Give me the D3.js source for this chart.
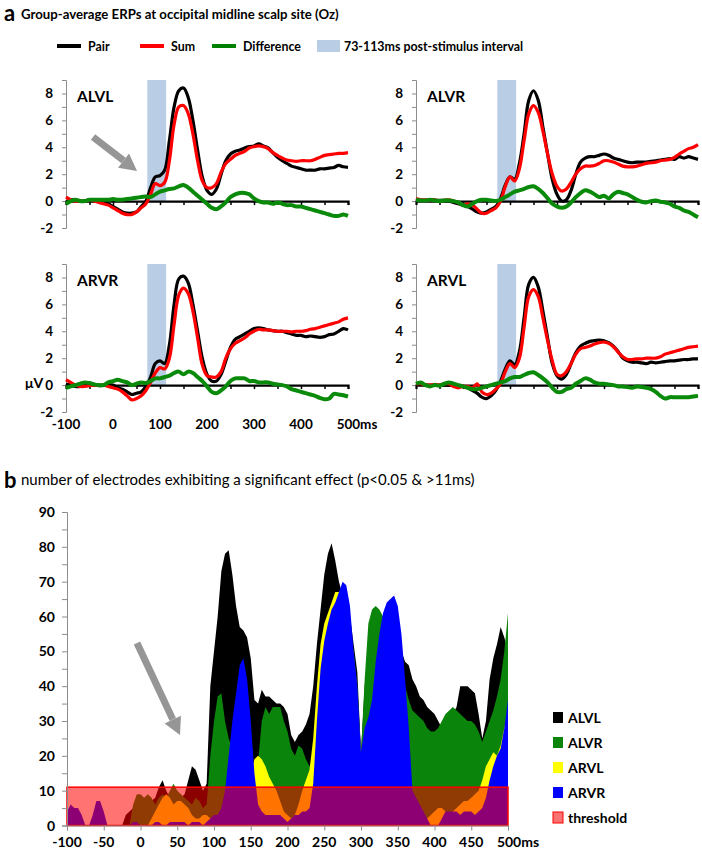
<!DOCTYPE html>
<html>
<head>
<meta charset="utf-8">
<script src="https://cdn.jsdelivr.net/npm/d3@7"></script>
<style>
  body { margin: 0; background: #fff; }
  svg { font-family: Lato, "Open Sans", sans-serif; }
</style>
</head>
<body>
<div id="chart"></div>
<script>
// ---- data: panel a, ERPs sampled every 10 ms ----
var erpTimes = d3.range(-100, 501, 10);

var alvlPair = [-0.1,0.1,0.1,0,0,0.1,0,0,-0.1,-0.2,-0.4,-0.6,-0.8,-0.9,-0.9,-0.8,-0.4,0,1.0,1.8,1.9,2.3,4.5,7.0,8.2,8.4,7.7,6.0,3.8,1.8,0.8,0.5,0.9,2.0,3.0,3.5,3.7,3.8,3.95,4.05,4.1,4.25,4.1,3.95,3.6,3.25,3.0,2.8,2.6,2.5,2.4,2.3,2.3,2.3,2.4,2.4,2.45,2.5,2.65,2.55,2.5];
var alvlSum  = [0.3,0.1,0,0,0,0.1,0,-0.1,-0.2,-0.3,-0.5,-0.7,-0.9,-1.0,-1.0,-0.8,-0.5,-0.2,0.5,1.3,1.15,1.4,3.0,5.7,7.0,7.1,6.5,5.0,3.0,1.5,1.0,1.0,1.3,2.15,2.8,3.1,3.4,3.55,3.7,3.95,4.05,4.1,4.05,3.9,3.6,3.4,3.2,3.05,3.0,2.95,3.0,3.0,3.0,3.1,3.25,3.4,3.45,3.5,3.55,3.55,3.6];
var alvlDiff = [-0.2,0,0.1,0,0,0.1,0.1,0.1,0.1,0.1,0.15,0.1,0.1,0.15,0.2,0.25,0.3,0.35,0.3,0.5,0.7,0.8,0.9,0.95,1.1,1.2,1.0,0.7,0.4,0.1,-0.2,-0.5,-0.6,-0.4,-0.1,0.3,0.5,0.6,0.6,0.5,0.2,0,-0.1,-0.1,-0.2,-0.1,-0.2,-0.3,-0.3,-0.4,-0.4,-0.5,-0.6,-0.7,-0.8,-0.9,-1.0,-1.1,-1.1,-1.0,-1.1];

var alvrPair = [0.05,0.05,0.05,0.05,0.05,0.05,0.05,0,-0.1,-0.2,-0.3,-0.4,-0.6,-0.8,-0.9,-0.8,-0.6,-0.4,0.2,1.2,1.8,1.6,2.8,5.0,7.5,8.2,7.5,5.5,3.5,1.6,0.5,0,0.1,0.8,2.0,2.9,3.2,3.3,3.3,3.4,3.5,3.4,3.2,3.1,3.0,2.9,2.85,2.9,2.9,2.9,2.95,3.0,3.05,3.1,3.15,3.1,3.3,3.2,3.3,3.2,3.1];
var alvrSum  = [0.2,0.1,0.1,0.1,0.1,0,0.05,0.1,0,-0.1,-0.3,-0.2,-0.3,-0.6,-0.9,-0.9,-0.7,-0.5,0,1.1,1.8,1.5,2.4,4.5,6.5,7.1,6.6,5.2,3.5,2.0,1.1,0.75,0.9,1.4,2.0,2.4,2.6,2.6,2.65,2.8,3.0,3.0,2.9,2.75,2.6,2.55,2.55,2.6,2.7,2.8,2.85,2.9,3.0,3.05,3.1,3.25,3.5,3.7,3.9,4.0,4.2];
var alvrDiff = [0.1,0.05,0.05,0.1,0.05,0,0.05,0.05,0,-0.1,-0.3,-0.4,-0.2,0,0.1,0.1,0.05,0,0.1,0.3,0.5,0.7,0.8,0.9,1.05,1.1,0.9,0.6,0.2,-0.2,-0.4,-0.5,-0.4,-0.1,0.3,0.6,0.8,0.7,0.5,0.3,0.4,0.2,0.5,0.7,0.6,0.5,0.3,0.1,-0.05,-0.1,0,0.05,-0.05,-0.1,-0.2,-0.4,-0.5,-0.7,-0.8,-1.0,-1.2];

var arvrPair = [0.05,0,-0.1,-0.1,0,0.1,0.05,-0.05,0,0,0,-0.2,-0.3,-0.5,-0.7,-0.6,-0.5,-0.1,0.6,1.6,1.8,1.6,3.0,6.0,7.9,8.1,7.6,6.0,4.0,2.0,0.8,0.3,0.3,0.8,1.8,2.8,3.4,3.6,3.8,4.0,4.2,4.25,4.2,4.1,4.05,4.0,4.0,3.9,3.8,3.7,3.7,3.6,3.65,3.6,3.55,3.6,3.75,3.8,4.0,4.2,4.1];
var arvrSum  = [0.4,0.2,0,-0.1,-0.1,-0.05,0,0,0,-0.1,-0.2,-0.3,-0.5,-0.8,-1.1,-1.0,-0.8,-0.4,0.2,0.9,1.3,1.2,2.0,4.5,6.7,7.2,6.8,5.5,3.5,1.5,0.7,0.6,0.6,1.0,2.0,2.7,3.1,3.3,3.5,3.8,4.0,4.15,4.1,4.1,4.05,4.0,4.0,4.0,3.95,4.0,4.0,4.05,4.15,4.2,4.3,4.4,4.5,4.6,4.7,4.9,5.0];
var arvrDiff = [-0.2,-0.1,0,0.1,0.2,0.15,0.05,0,0,0.2,0.3,0.4,0.3,0.2,0,0.1,0.2,0.15,0.3,0.5,0.5,0.6,0.7,0.9,1.0,0.8,1.0,0.9,0.6,0.3,-0.1,-0.5,-0.6,-0.4,-0.1,0.3,0.5,0.5,0.5,0.3,0.3,0.2,0.2,0.2,0.1,0.05,0,-0.1,-0.3,-0.4,-0.5,-0.6,-0.7,-0.8,-0.95,-1.05,-1.0,-0.65,-0.7,-0.75,-0.85];

var arvlPair = [0.1,0.1,0,0,0,0,0,0,0,-0.1,-0.1,-0.2,-0.4,-0.6,-0.9,-1.0,-0.8,-0.4,0.3,1.2,1.8,1.5,2.5,5.0,7.5,8.0,7.3,5.5,3.5,1.6,0.7,0.45,0.8,1.6,2.4,2.9,3.1,3.25,3.3,3.35,3.3,3.15,2.9,2.5,2.0,1.8,1.7,1.7,1.65,1.6,1.7,1.65,1.7,1.75,1.8,1.8,1.85,1.9,1.9,1.95,1.95];
var arvlSum  = [0.1,0.1,0,0,0.05,0,0.1,0.1,-0.1,-0.2,-0.1,-0.1,-0.2,0.1,-0.5,-0.7,-0.6,-0.3,0.1,1.0,1.6,1.3,2.0,4.3,6.6,7.1,6.6,5.0,3.3,1.8,0.8,0.7,1.0,1.6,2.3,2.7,2.8,2.9,3.05,3.15,3.2,3.1,2.85,2.45,2.1,1.9,1.9,1.95,1.95,2.0,2.0,2.0,2.1,2.3,2.4,2.5,2.6,2.7,2.8,2.85,2.9];
var arvlDiff = [0.1,0.2,0,-0.1,0,-0.05,0.1,0.2,0.1,0,-0.1,-0.2,-0.3,-0.3,-0.2,-0.1,0,0.1,0.2,0.3,0.5,0.6,0.6,0.75,0.9,0.95,0.75,0.5,0.2,-0.2,-0.5,-0.5,-0.3,-0.2,0.1,0.3,0.5,0.4,0.2,0.1,0.1,0.05,0,-0.1,-0.1,-0.15,-0.2,-0.1,-0.15,-0.2,-0.3,-0.5,-0.8,-1.0,-0.9,-0.9,-0.9,-0.9,-0.9,-0.85,-0.8];

var erpTicksY = [-2, 0, 2, 4, 6, 8];
var erpTickLabelsX = ["-100", "0", "100", "200", "300", "400", "500ms"];
var intervalMs = [73, 113];

// ---- data: panel b, electrode counts sampled every 5 ms ----
var countTimes = d3.range(-100, 501, 5);

var countALVL = [0,0,0,0,0,0,0,0,0,0,0,0,0,0,0,0,
    3,4,5,6,7,6,6,7,8,11,13,10,8,9,10,8,9,13,17,16,13,10,12,
    40,50,60,73,78,79,72,63,57,56,54,48,36,35,39,37,37,36,35,35,34,32,
    26,24,26,27,29,32,40,52,62,72,78,81,76,70,66,62,60,52,44,21,
    40,50,55,58,60,60,58,56,54,52,50,47,46,42,40,37,36,34,33,32,30,28,
    29,30,32,34,40,40,40,39,38,32,25,30,42,48,52,57,54,50];
var countALVR = [0,0,0,0,0,0,0,0,0,0,0,0,0,0,0,0,0,0,
    6,9,9,8,9,8,6,8,9,8,10,12,10,9,8,7,6,8,7,5,6,
    20,30,37,38,30,25,22,20,22,25,28,15,14,18,30,34,32,34,34,34,30,27,
    22,20,23,22,19,17,20,30,40,45,50,55,58,60,60,58,55,50,40,21,
    42,58,62,63,62,60,58,55,52,48,44,40,36,33,32,31,30,28,27,27,
    28,30,32,33,34,33,32,31,30,30,29,27,24,27,30,33,37,42,50,61];
var countARVL = [0,0,0,0,0,0,0,0,0,0,0,0,0,0,0,0,0,0,0,0,0,0,0,
    2,4,6,8,9,8,6,7,7,6,5,3,2,2,3,3,2,2,
    2,3,5,8,10,12,14,15,16,15,19,20,19,17,14,12,10,7,4,3,
    2,3,6,10,13,16,25,40,52,58,61,64,67,67,65,60,55,45,35,20,
    22,25,30,40,45,50,52,50,45,40,30,20,12,8,5,3,2,2,3,4,
    5,5,4,3,4,5,6,7,7,8,9,10,13,17,19,21,20,23,28,33];
var countARVR = [4,6,5,5,3,0,0,3,7,7,4,0,0,0,0,0,0,0,1,1,
    0,0,0,0,1,1,0,0,1,1,1,1,1,0,1,1,1,0,1,2,
    3,3,5,10,20,30,38,46,48,42,30,15,6,4,3,3,3,3,3,2,
    1,2,3,3,4,4,5,12,30,45,53,58,62,64,67,70,69,63,50,40,
    21,28,31,36,47,55,61,64,65,66,63,55,42,28,10,8,6,4,2,0,
    0,0,2,4,4,4,4,3,4,4,4,3,4,5,8,13,17,20,22,28,36];

var countSeries = [
  {name: "ALVL", values: countALVL, color: "#000000"},
  {name: "ALVR", values: countALVR, color: "#0a840a"},
  {name: "ARVL", values: countARVL, color: "#ffff00"},
  {name: "ARVR", values: countARVR, color: "#0000ff"}
];
var threshold = 11;
var countTicksY = [0, 10, 20, 30, 40, 50, 60, 70, 80, 90];
var countTicksX = [-100, -50, 0, 50, 100, 150, 200, 250, 300, 350, 400, 450, 500];

var W = 702, H = 853;
var svg = d3.select("#chart").append("svg")
    .attr("width", W)
    .attr("height", H);

// ---------- panel a ----------
svg.append("text").attr("x", 4).attr("y", 21)
    .attr("font-size", 22).attr("font-weight", "bold").text("a");
svg.append("text").attr("x", 21).attr("y", 19)
    .attr("font-size", 13.2).attr("font-weight", "bold")
    .text("Group-average ERPs at occipital midline scalp site (Oz)");

// legend a
var legA = svg.append("g").attr("font-size", 12.4).attr("font-weight", "bold");
[["Pair", "#000", 57], ["Sum", "#ff0000", 140], ["Difference", "#008000", 212]].forEach(function (d) {
    legA.append("line").attr("x1", d[2]).attr("x2", d[2] + 24)
        .attr("y1", 46).attr("y2", 46)
        .attr("stroke", d[1]).attr("stroke-width", 4);
    legA.append("text").attr("x", d[2] + 31).attr("y", 50.5).text(d[0]);
});
legA.append("rect").attr("x", 317).attr("y", 40).attr("width", 23).attr("height", 12).attr("fill", "#b9cde5");
legA.append("text").attr("x", 344).attr("y", 50.5).text("73-113ms post-stimulus interval");

var panels = [
    {name: "ALVL", left: 66,  top: 80,  pair: alvlPair, sum: alvlSum, diff: alvlDiff, arrow: true},
    {name: "ALVR", left: 416, top: 80,  pair: alvrPair, sum: alvrSum, diff: alvrDiff},
    {name: "ARVR", left: 66,  top: 264, pair: arvrPair, sum: arvrSum, diff: arvrDiff, xlabels: true, unit: true},
    {name: "ARVL", left: 416, top: 264, pair: arvlPair, sum: arvlSum, diff: arvlDiff}
];

panels.forEach(function (p) {
    var x = d3.scaleLinear().domain([-100, 500]).range([p.left, p.left + 282]);
    var y = d3.scaleLinear().domain([-2, 9]).range([p.top + 148, p.top]);
    var g = svg.append("g");

    // interval band
    g.append("rect")
        .attr("x", x(intervalMs[0])).attr("width", x(intervalMs[1]) - x(intervalMs[0]))
        .attr("y", y(9)).attr("height", y(0) - y(9))
        .attr("fill", "#b9cde5");

    // y axis
    var yAxis = g.append("g").attr("transform", "translate(" + p.left + ",0)")
        .call(d3.axisLeft(y).tickValues(d3.range(-2, 10, 1)).tickSize(4).tickFormat(""));
    yAxis.select(".domain").attr("stroke", "#8c8c8c");
    yAxis.selectAll(".tick line").attr("stroke", "#8c8c8c");
    g.selectAll(".ylab").data(erpTicksY).enter().append("text")
        .attr("x", p.left - 13).attr("y", function (d) { return y(d) + 5; })
        .attr("text-anchor", "end").attr("font-size", 13.5).attr("font-weight", "bold")
        .text(function (d) { return d; });

    // x axis on zero line
    var xAxis = g.append("g").attr("transform", "translate(0," + y(0) + ")")
        .call(d3.axisBottom(x).tickValues(d3.range(-50, 501, 50)).tickSize(4).tickFormat(""));
    xAxis.select(".domain").attr("stroke", "#000").attr("stroke-width", 2.2);
    xAxis.selectAll(".tick line").attr("stroke", "#000").attr("stroke-width", 1.5);

    var line = d3.line()
        .x(function (d, i) { return x(erpTimes[i]); })
        .y(function (d) { return y(d); })
        .curve(d3.curveCatmullRom);
    [[p.pair, "#000", 3.2], [p.sum, "#ff0000", 3.2], [p.diff, "#0a8a0a", 4]].forEach(function (s) {
        g.append("path").datum(s[0]).attr("d", line)
            .attr("fill", "none").attr("stroke", s[1]).attr("stroke-width", s[2])
            .attr("stroke-linejoin", "round");
    });

    g.append("text").attr("x", p.left + 11).attr("y", p.top + 22)
        .attr("font-size", 15.5).attr("font-weight", "bold").text(p.name);

    if (p.xlabels) {
        g.selectAll(".xlab").data(erpTickLabelsX).enter().append("text")
            .attr("x", function (d, i) { return x(-100 + i * 100) + (i === 6 ? 9 : 0); })
            .attr("y", p.top + 165)
            .attr("text-anchor", "middle").attr("font-size", 13.5).attr("font-weight", "bold")
            .text(function (d) { return d; });
    }
    if (p.unit) {
        g.append("text").attr("x", 25).attr("y", y(0) + 3)
            .attr("font-size", 14).attr("font-weight", "bold").text("\u03bcV");
    }
    if (p.arrow) {
        drawArrow(93, 137, 137, 171, 7);
    }
});

function drawArrow(x1, y1, x2, y2, w) {
    var ang = Math.atan2(y2 - y1, x2 - x1);
    var headLen = 17, headW = 9;
    var bx = x2 - headLen * Math.cos(ang), by = y2 - headLen * Math.sin(ang);
    svg.append("line").attr("x1", x1).attr("y1", y1).attr("x2", bx).attr("y2", by)
        .attr("stroke", "#969696").attr("stroke-width", w);
    var nx = -Math.sin(ang), ny = Math.cos(ang);
    svg.append("path")
        .attr("d", "M" + x2 + "," + y2 + "L" + (bx + nx * headW) + "," + (by + ny * headW) +
            "L" + (bx - nx * headW) + "," + (by - ny * headW) + "Z")
        .attr("fill", "#969696");
}

// ---------- panel b ----------
svg.append("text").attr("x", 4).attr("y", 488)
    .attr("font-size", 22).attr("font-weight", "bold").text("b");
svg.append("text").attr("x", 21).attr("y", 485)
    .attr("font-size", 15)
    .text("number of electrodes exhibiting a significant effect (p<0.05 & >11ms)");

var xb = d3.scaleLinear().domain([-100, 500]).range([67, 508]);
var yb = d3.scaleLinear().domain([0, 90]).range([825.5, 512]);

var area = d3.area()
    .x(function (d, i) { return xb(countTimes[i]); })
    .y0(yb(0))
    .y1(function (d) { return yb(d); });

countSeries.forEach(function (s) {
    svg.append("path").datum(s.values).attr("d", area).attr("fill", s.color);
});

svg.append("rect")
    .attr("x", xb(-100)).attr("width", xb(500) - xb(-100))
    .attr("y", yb(threshold)).attr("height", yb(0) - yb(threshold))
    .attr("fill", "#ff0000").attr("fill-opacity", 0.55)
    .attr("stroke", "#ff0000").attr("stroke-width", 1.5);

var yAxB = svg.append("g").attr("transform", "translate(67,0)")
    .call(d3.axisLeft(yb).tickValues(d3.range(0, 91, 5)).tickSize(5).tickFormat(""));
yAxB.select(".domain").attr("stroke", "#8c8c8c");
yAxB.selectAll(".tick line").attr("stroke", "#8c8c8c");
svg.selectAll(".yblab").data(countTicksY).enter().append("text")
    .attr("x", 55).attr("y", function (d) { return yb(d) + 5; })
    .attr("text-anchor", "end").attr("font-size", 14).attr("font-weight", "bold")
    .text(function (d) { return d; });

var xAxB = svg.append("g").attr("transform", "translate(0," + yb(0) + ")")
    .call(d3.axisBottom(xb).tickValues(countTicksX).tickSize(5).tickFormat(""));
xAxB.select(".domain").attr("stroke", "#8c8c8c");
xAxB.selectAll(".tick line").attr("stroke", "#8c8c8c");
svg.selectAll(".xblab").data(countTicksX).enter().append("text")
    .attr("x", function (d) { return xb(d) + (d === 500 ? 10 : 0); })
    .attr("y", 847)
    .attr("text-anchor", "middle").attr("font-size", 14).attr("font-weight", "bold")
    .text(function (d) { return d === 500 ? "500ms" : d; });

drawArrow(137, 643, 180, 735, 7);

// legend b
var legB = svg.append("g").attr("font-size", 14).attr("font-weight", "bold");
countSeries.concat([{name: "threshold", color: "#f87272"}]).forEach(function (s, i) {
    var yy = 718 + i * 25;
    legB.append("rect").attr("x", 553).attr("y", yy - 6).attr("width", 10).attr("height", 11)
        .attr("fill", s.color)
        .attr("stroke", s.name === "threshold" ? "#ff0000" : "none");
    legB.append("text").attr("x", 568).attr("y", yy + 5).text(s.name);
});
</script>
</body>
</html>
